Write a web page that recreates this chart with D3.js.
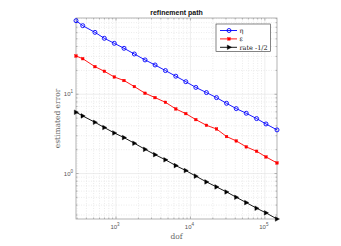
<!DOCTYPE html>
<html>
<head>
<meta charset="utf-8">
<script src="https://cdn.jsdelivr.net/npm/d3@7"></script>
<style>
  body { margin: 0; background: #fff; }
  svg { display: block; }
</style>
</head>
<body>
<div id="container"></div>
<script>
/**
 * DATA
 * */
const dof = [290, 357, 521, 697, 949, 1281, 1763, 2455, 3349, 4612, 6353,
  8663, 11815, 16406, 22390, 30530, 41230, 56220, 77360, 103500, 145500];
const eta = [84.7, 73.3, 60.4, 50.8, 43.9, 38.0, 32.2, 27.1, 23.4, 19.9, 16.9,
  14.4, 12.2, 10.5, 9.07, 7.69, 6.59, 5.76, 4.93, 4.22, 3.55];
const eps = [30.4, 28.1, 22.3, 19.5, 16.5, 14.9, 12.5, 10.3, 9.07, 7.92, 6.53,
  5.70, 4.79, 4.06, 3.65, 2.93, 2.58, 2.17, 1.91, 1.62, 1.36];
const rate = [5.93, 5.33, 4.43, 3.80, 3.25, 2.84, 2.41, 2.02, 1.73, 1.49, 1.26,
  1.09, 0.927, 0.784, 0.678, 0.586, 0.502, 0.430, 0.365, 0.319, 0.267];
const seriesNames = ["\u03b7", "\u03b5", "rate -1/2"];
const xTicks = [1e3, 1e4, 1e5];
const yTicks = [1, 10];

/**
 * CONSTANTS
 * */
const width = 341, height = 246;
const margin = { top: 18, bottom: 27, left: 76, right: 64 };
const serif = "'DejaVu Serif', 'Liberation Serif', serif";
const sans = "'Liberation Sans', Arial, sans-serif";

const svg = d3.select("#container").append("svg")
  .attr("width", width).attr("height", height);

const x = d3.scaleLog().domain([dof[0], dof[dof.length - 1]])
  .range([margin.left, width - margin.right]);
const y = d3.scaleLog().domain([0.267, 91.6])
  .range([height - margin.bottom, margin.top]);

const [x0, x1] = x.range();
const [y1, y0] = y.range();

// minor tick values
const xMinor = [];
for (let e = 2; e <= 5; e++) for (let k = 1; k <= 9; k++) {
  const v = k * Math.pow(10, e);
  if (v >= dof[0] && v <= dof[dof.length - 1]) xMinor.push(v);
}
const yMinor = [];
for (let e = -1; e <= 1; e++) for (let k = 1; k <= 9; k++) {
  const v = k * Math.pow(10, e);
  if (v >= 0.267 && v <= 91.6) yMinor.push(v);
}

// grid
const grid = svg.append("g");
grid.selectAll(".xmin").data(xMinor.filter(v => !xTicks.includes(v))).join("line")
  .attr("x1", d => x(d)).attr("x2", d => x(d)).attr("y1", y0).attr("y2", y1)
  .attr("stroke", "#d8d8d8").attr("stroke-width", 0.5).attr("stroke-dasharray", "1,1.5");
grid.selectAll(".ymin").data(yMinor.filter(v => !yTicks.includes(v))).join("line")
  .attr("y1", d => y(d)).attr("y2", d => y(d)).attr("x1", x0).attr("x2", x1)
  .attr("stroke", "#d8d8d8").attr("stroke-width", 0.5).attr("stroke-dasharray", "1,1.5");
grid.selectAll(".xmaj").data(xTicks).join("line")
  .attr("x1", d => x(d)).attr("x2", d => x(d)).attr("y1", y0).attr("y2", y1)
  .attr("stroke", "#e2e2e2").attr("stroke-width", 0.6);
grid.selectAll(".ymaj").data(yTicks).join("line")
  .attr("y1", d => y(d)).attr("y2", d => y(d)).attr("x1", x0).attr("x2", x1)
  .attr("stroke", "#e2e2e2").attr("stroke-width", 0.6);

// axes box + inward ticks
const axes = svg.append("g").attr("stroke", "#a0a0a0").attr("stroke-width", 0.8);
axes.append("rect").attr("x", x0).attr("y", y0).attr("width", x1 - x0).attr("height", y1 - y0)
  .attr("fill", "none");
const tickLen = v => (xTicks.includes(v) || yTicks.includes(v)) ? 2.5 : 1.5;
axes.selectAll(".xt").data(xMinor).join("path")
  .attr("d", d => `M${x(d)},${y1}v${-tickLen(d)}M${x(d)},${y0}v${tickLen(d)}`);
axes.selectAll(".yt").data(yMinor).join("path")
  .attr("d", d => `M${x0},${y(d)}h${tickLen(d)}M${x1},${y(d)}h${-tickLen(d)}`);

// tick labels
const xl = svg.append("g").attr("font-family", sans).attr("fill", "#555").attr("font-size", 6);
xTicks.forEach(v => {
  const t = xl.append("text").attr("x", x(v) - 1).attr("y", y1 + 10).attr("text-anchor", "middle");
  t.append("tspan").text("10");
  t.append("tspan").attr("dy", -3).attr("font-size", 4.5).text(Math.round(Math.log10(v)));
});
yTicks.forEach(v => {
  const t = xl.append("text").attr("x", x0 - 3).attr("y", y(v) + 2).attr("text-anchor", "end");
  t.append("tspan").text("10");
  t.append("tspan").attr("dy", -3).attr("font-size", 4.5).text(Math.round(Math.log10(v)));
});

// labels + title
svg.append("text").attr("x", (x0 + x1) / 2).attr("y", 15).attr("text-anchor", "middle")
  .attr("font-family", sans).attr("font-weight", "bold").attr("font-size", 7).attr("fill", "#111")
  .text("refinement path");
svg.append("text").attr("x", (x0 + x1) / 2).attr("y", 239).attr("text-anchor", "middle")
  .attr("font-family", serif).attr("font-size", 7.5).attr("fill", "#666").text("dof");
svg.append("text").attr("transform", `translate(60,${(y0 + y1) / 2}) rotate(-90)`)
  .attr("text-anchor", "middle").attr("font-family", serif).attr("font-size", 7.5)
  .attr("fill", "#666").text("estimated error");

// series
const series = [
  { name: seriesNames[0], values: eta, color: "#0000ff", marker: "circle" },
  { name: seriesNames[1], values: eps, color: "#ff0000", marker: "square" },
  { name: seriesNames[2], values: rate, color: "#000000", marker: "triangle" }
];

function drawMarker(g, kind, color, cx, cy) {
  if (kind === "circle") {
    g.append("circle").attr("cx", cx).attr("cy", cy).attr("r", 2)
      .attr("fill", "none").attr("stroke", color).attr("stroke-width", 0.9);
  } else if (kind === "square") {
    g.append("rect").attr("x", cx - 1.3).attr("y", cy - 1.3).attr("width", 2.6).attr("height", 2.6)
      .attr("fill", color).attr("stroke", color).attr("stroke-width", 0.4);
  } else {
    g.append("path").attr("d", `M${cx + 2.5},${cy}L${cx - 1.7},${cy - 2.3}L${cx - 1.7},${cy + 2.3}Z`)
      .attr("fill", color).attr("stroke", color).attr("stroke-width", 0.4);
  }
}

const line = d3.line().x(d => x(d[0])).y(d => y(d[1]));
series.forEach(s => {
  const pts = dof.map((d, i) => [d, s.values[i]]);
  const g = svg.append("g");
  g.append("path").datum(pts).attr("d", line).attr("fill", "none")
    .attr("stroke", s.color).attr("stroke-width", 0.9);
  pts.forEach(p => drawMarker(g, s.marker, s.color, x(p[0]), y(p[1])));
});

// legend
const lg = svg.append("g");
lg.append("rect").attr("x", 216).attr("y", 24).attr("width", 54.5).attr("height", 27.5)
  .attr("fill", "#fff").attr("stroke", "#333").attr("stroke-width", 0.6);
series.forEach((s, i) => {
  const ly = 30.5 + i * 8.4;
  lg.append("line").attr("x1", 220).attr("x2", 237).attr("y1", ly).attr("y2", ly)
    .attr("stroke", s.color).attr("stroke-width", 0.9);
  drawMarker(lg, s.marker, s.color, 229, ly);
  lg.append("text").attr("x", 239.5).attr("y", ly + 2.3).attr("font-family", serif)
    .attr("font-size", 6.5).attr("fill", "#111").text(s.name);
});
</script>
</body>
</html>
